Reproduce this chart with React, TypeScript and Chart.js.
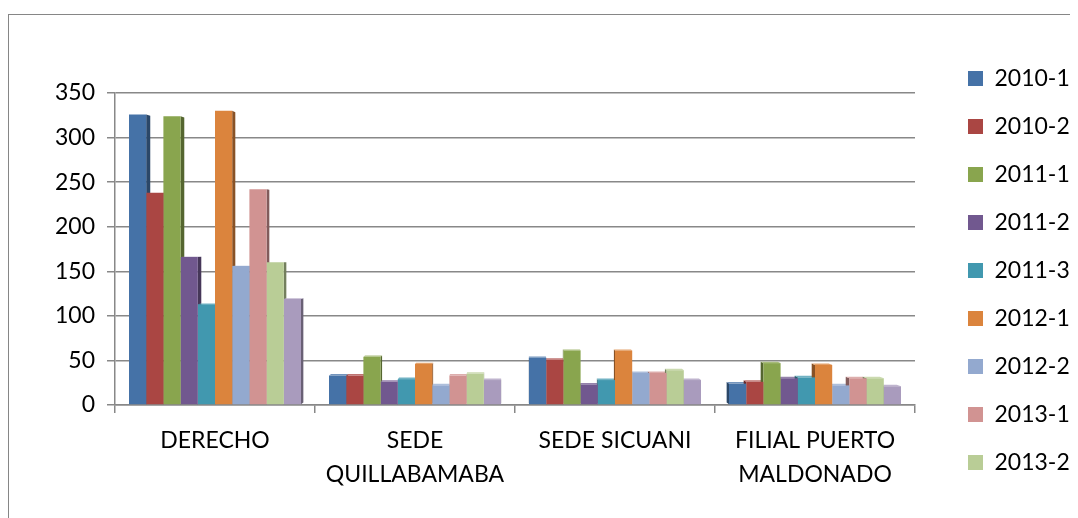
import { useEffect, useRef } from 'react';
import { Chart, registerables } from 'chart.js';

Chart.register(...registerables);

const categories: (string | string[])[] = [
  'DERECHO',
  ['SEDE', 'QUILLABAMABA'],
  'SEDE SICUANI',
  ['FILIAL PUERTO', 'MALDONADO'],
];

const seriesNames = ['2010-1', '2010-2', '2011-1', '2011-2', '2011-3', '2012-1', '2012-2', '2013-1', '2013-2', '2014-1'];

const s2010_1 = [326, 33, 53, 24];
const s2010_2 = [238, 33, 51, 26];
const s2011_1 = [324, 54, 61, 47];
const s2011_2 = [166, 26, 23, 30];
const s2011_3 = [113, 29, 28, 31];
const s2012_1 = [330, 46, 61, 45];
const s2012_2 = [156, 22, 36, 22];
const s2013_1 = [242, 33, 36, 30];
const s2013_2 = [160, 35, 39, 30];
const s2014_1 = [119, 28, 28, 21];

const seriesValues = [s2010_1, s2010_2, s2011_1, s2011_2, s2011_3, s2012_1, s2012_2, s2013_1, s2013_2, s2014_1];

const seriesColors = ['#4572A7', '#AA4643', '#89A54E', '#71588F', '#4198AF', '#DB843D', '#93A9CF', '#D19392', '#B9CD96', '#A99BBD'];

const yTicks = [0, 50, 100, 150, 200, 250, 300, 350];

// legend entries that fit in the visible legend (the last one is dropped, as in the original)
const LEGEND_VISIBLE = 9;

const FONT = 'Lato, "Open Sans", sans-serif';
const FONT_SIZE = 23;

function shade(hex: string, f: number): string {
  const n = parseInt(hex.slice(1), 16);
  const c = [(n >> 16) & 255, (n >> 8) & 255, n & 255].map((v) => {
    const r = f <= 1 ? v * f : v + (255 - v) * (f - 1);
    return Math.max(0, Math.min(255, Math.round(r)));
  });
  return `rgb(${c[0]},${c[1]},${c[2]})`;
}

const depthPlugin = {
  id: 'depth3d',
  beforeDatasetsDraw(chart: any) {
    const ctx = chart.ctx;
    const area = chart.chartArea;
    const cx = (area.left + area.right) / 2;
    const vy = 225;
    const k = 0.011;
    const bx = (px: number) => px + (cx - px) * k;
    const by = (py: number) => py + (vy - py) * k;
    ctx.save();
    chart.data.datasets.forEach((ds: any, di: number) => {
      const meta = chart.getDatasetMeta(di);
      if (meta.hidden) return;
      const col = seriesColors[di];
      const sideCol = shade(col, 0.62);
      const topCol = shade(col, 1.25);
      meta.data.forEach((bar: any) => {
        const { x, y, base, width } = bar.getProps(['x', 'y', 'base', 'width'], true);
        const L = x - width / 2;
        const R = x + width / 2;
        const ex = x < cx ? R : L;
        ctx.fillStyle = sideCol;
        ctx.beginPath();
        ctx.moveTo(ex, y);
        ctx.lineTo(bx(ex), by(y));
        ctx.lineTo(bx(ex), by(base));
        ctx.lineTo(ex, base);
        ctx.closePath();
        ctx.fill();
        if (by(y) < y) {
          ctx.fillStyle = topCol;
          ctx.beginPath();
          ctx.moveTo(L, y);
          ctx.lineTo(bx(L), by(y));
          ctx.lineTo(bx(R), by(y));
          ctx.lineTo(R, y);
          ctx.closePath();
          ctx.fill();
        }
      });
    });
    ctx.restore();
  },
};

export default function App() {
  const ref = useRef<HTMLCanvasElement | null>(null);

  useEffect(() => {
    if (!ref.current) return;
    const W = 1100;
    const legendLeft = 934;
    const mctx = document.createElement('canvas').getContext('2d') as CanvasRenderingContext2D;
    mctx.font = `${FONT_SIZE}px ${FONT}`;
    const textW = Math.max(...seriesNames.slice(0, LEGEND_VISIBLE).map((n) => mctx.measureText(n).width));
    const legendPad = 25;
    const legendNatural = legendPad + 15 + FONT_SIZE / 2 + textW + 10;
    const padRight = Math.max(0, W - legendLeft - legendNatural);

    const chart = new Chart(ref.current, {
      type: 'bar',
      data: {
        labels: categories as any,
        datasets: seriesNames.map((name, i) => ({
          label: name,
          data: seriesValues[i],
          backgroundColor: seriesColors[i],
          borderWidth: 0,
          categoryPercentage: 0.86,
          barPercentage: 1,
        })),
      },
      options: {
        responsive: false,
        animation: false,
        color: '#000',
        layout: { padding: { top: 27, left: 0, right: padRight, bottom: 0 } },
        plugins: {
          title: {
            display: true,
            text: ' ',
            font: { size: 10, lineHeight: 1.2 },
            padding: { top: 0, bottom: 39 },
          },
          legend: {
            position: 'right',
            align: 'start',
            labels: {
              boxWidth: 15,
              boxHeight: 15,
              padding: legendPad,
              color: '#000',
              font: { family: FONT, size: FONT_SIZE },
              filter: (item: any) => item.datasetIndex < LEGEND_VISIBLE,
            },
          },
          tooltip: { enabled: false },
        },
        scales: {
          x: {
            offset: true,
            grid: {
              display: true,
              drawOnChartArea: false,
              drawTicks: true,
              tickLength: 8,
              color: '#888',
              lineWidth: 1.5,
              offset: true,
            },
            border: { display: true, color: '#888', width: 1.5 },
            ticks: {
              color: '#000',
              padding: 11,
              maxRotation: 0,
              autoSkip: false,
              font: { family: FONT, size: FONT_SIZE, lineHeight: 34 / 23 },
            },
            afterFit: (s: any) => {
              s.height = 170;
            },
          },
          y: {
            min: 0,
            max: 350,
            afterBuildTicks: (s: any) => {
              s.ticks = yTicks.map((v) => ({ value: v }));
            },
            grid: {
              color: '#888',
              lineWidth: 1.5,
              tickLength: 8,
            },
            border: { display: true, color: '#888', width: 1.5 },
            ticks: {
              color: '#000',
              padding: 12,
              font: { family: FONT, size: FONT_SIZE },
            },
            afterFit: (s: any) => {
              s.width = 106;
            },
          },
          y2: {
            type: 'linear',
            position: 'right',
            display: true,
            grid: { display: false },
            border: { display: false },
            ticks: { display: false },
            afterFit: (s: any) => {
              s.width = 28;
            },
          },
        },
      },
      plugins: [depthPlugin],
    } as any);
    return () => chart.destroy();
  }, []);

  return (
    <div style={{ position: 'relative', width: 1070, height: 510, overflow: 'hidden', background: '#fff' }}>
      <div
        style={{
          position: 'absolute',
          left: 0,
          top: 6,
          width: 1100,
          height: 560,
          border: '1px solid #868686',
          background: '#fff',
        }}
      >
        <canvas ref={ref} width={1100} height={560} style={{ display: 'block', width: 1100, height: 560 }} />
      </div>
    </div>
  );
}
